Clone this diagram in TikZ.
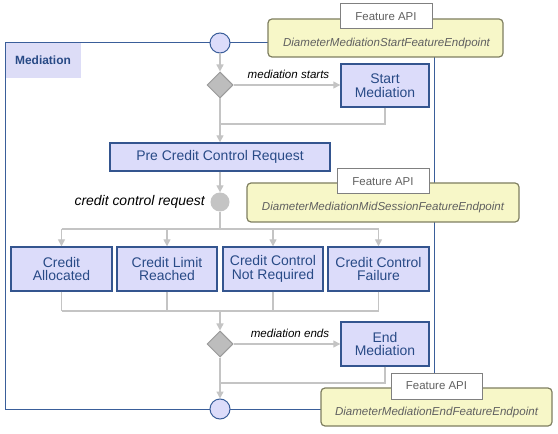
\documentclass[tikz,border=0pt]{standalone}
\usepackage{fontspec}
\setmainfont{Liberation Sans}
\usetikzlibrary{arrows.meta,shapes.geometric}
\definecolor{frameblue}{HTML}{3A5E9A}
\definecolor{boxborder}{HTML}{34558F}
\definecolor{boxfill}{HTML}{DCDCFA}
\definecolor{tabfill}{HTML}{DDDDF7}
\definecolor{textblue}{HTML}{284A86}
\definecolor{flowgray}{HTML}{C4C4C4}
\definecolor{diafill}{HTML}{BDBDBD}
\definecolor{diaborder}{HTML}{9A9A9A}
\definecolor{apifill}{HTML}{F7F7C8}
\definecolor{apiborder}{HTML}{7F7F60}
\definecolor{apitext}{HTML}{606060}
\begin{document}
\begin{tikzpicture}[x=1bp,y=-1bp,
  flow/.style={draw=flowgray, line width=1.4bp},
  flowarrow/.style={flow, -{Triangle[length=7bp,width=7bp]}},
  statebox/.style={draw=boxborder, fill=boxfill, line width=1.4bp, text=textblue,
    font=\fontsize{14}{13.5}\selectfont, align=center, inner sep=0pt, minimum height=44bp},
  decision/.style={diamond, draw=diaborder, fill=diafill, line width=1bp, inner sep=0pt,
    minimum width=26bp, minimum height=26bp},
  terminal/.style={circle, draw=frameblue, fill=boxfill, line width=1bp, inner sep=0pt, minimum size=20bp},
  junction/.style={circle, fill=flowgray, inner sep=0pt, minimum size=19bp},
  guard/.style={font=\fontsize{11.6}{13}\selectfont\itshape, text=black, inner sep=0pt},
  apibox/.style={draw=apiborder, fill=apifill, line width=1.2bp, rounded corners=4bp, inner sep=0pt},
  apitag/.style={draw=apitext!80, fill=white, line width=1bp, inner sep=0pt, text=apitext,
    font=\fontsize{11.5}{13}\selectfont},
  apiname/.style={font=\fontsize{11.6}{13}\selectfont\itshape, text=apitext, inner sep=0pt}
]
\useasboundingbox (0,0) rectangle (558,434);
\fill[white] (0,0) rectangle (558,434);

% frame
\draw[frameblue, line width=1bp] (5,43) rectangle (434,409);
\fill[tabfill] (5.5,43.5) rectangle (81,78);
\node[font=\fontsize{12}{14}\selectfont\bfseries, text=textblue] (tab) at (43,60) {Mediation};

% nodes
\node[terminal] (sc) at (220,43) {};
\node[decision] (d1) at (220,85) {};
\node[statebox, minimum width=88bp, minimum height=43bp] (sm) at (385,85.5) {Start\\Mediation};
\node[statebox, minimum width=220bp, minimum height=28bp] (pre) at (220,157) {Pre Credit Control Request};
\node[junction] (gc) at (220,202) {};
\node[font=\fontsize{14}{16}\selectfont\itshape, anchor=east, inner sep=0pt] (ccr) at (205,202) {credit control request};
\node[statebox, minimum width=101bp] (b1) at (61.5,269) {Credit\\Allocated};
\node[statebox, minimum width=100bp] (b2) at (167,269) {Credit Limit\\Reached};
\node[statebox, minimum width=100bp] (b3) at (273,269) {Credit Control\\Not Required};
\node[statebox, minimum width=101bp] (b4) at (378.5,269) {Credit Control\\Failure};
\node[decision] (d2) at (220,344) {};
\node[statebox, minimum width=88bp] (em) at (385,344) {End\\Mediation};
\node[terminal] (ec) at (220,409) {};
\node[guard] (gs) at (288.5,74) {mediation starts};
\node[guard] (ge) at (290,333) {mediation ends};

\coordinate (m1) at (220,124);
\coordinate (br) at (220,229);
\coordinate (jn) at (220,311);
\coordinate (m2) at (220,383);

% flows
\draw[flowarrow] (sc) -- (d1);
\draw[flowarrow] (d1.east) -- (d1.east -| sm.west);
\draw[flow] (sm.south) |- (m1);
\draw[flowarrow] (d1) -- (pre);
\draw[flowarrow] (pre) -- (gc);
\draw[flow] (gc) -- (br);
\draw[flow] (b1.north |- br) -- (b4.north |- br);
\foreach \b in {b1,b2,b3,b4} {
  \draw[flowarrow] (\b.north |- br) -- (\b.north);
  \draw[flow] (\b.south) -- (\b.south |- jn);
}
\draw[flow] (b1.south |- jn) -- (b4.south |- jn);
\draw[flowarrow] (jn) -- (d2);
\draw[flowarrow] (d2.east) -- (d2.east -| em.west);
\draw[flow] (em.south) |- (m2);
\draw[flowarrow] (d2) -- (ec);

% feature API boxes
\node[apibox, minimum width=235bp, minimum height=38bp] (fa1) at (385.5,38) {};
\node[apitag, minimum width=92bp, minimum height=25bp] (fa1t) at (386,16.5) {Feature API};
\node[apiname] (fa1n) at (386.5,43.5) {DiameterMediationStartFeatureEndpoint};

\node[apibox, minimum width=272bp, minimum height=39bp] (fa2) at (383,202.5) {};
\node[apitag, minimum width=92bp, minimum height=25bp] (fa2t) at (383,181.5) {Feature API};
\node[apiname] (fa2n) at (383,207.5) {DiameterMediationMidSessionFeatureEndpoint};

\node[apibox, minimum width=231bp, minimum height=38bp] (fa3) at (436.5,407) {};
\node[apitag, minimum width=91bp, minimum height=26bp] (fa3t) at (436.5,386) {Feature API};
\node[apiname] (fa3n) at (436.5,412.5) {DiameterMediationEndFeatureEndpoint};
\end{tikzpicture}
\end{document}
